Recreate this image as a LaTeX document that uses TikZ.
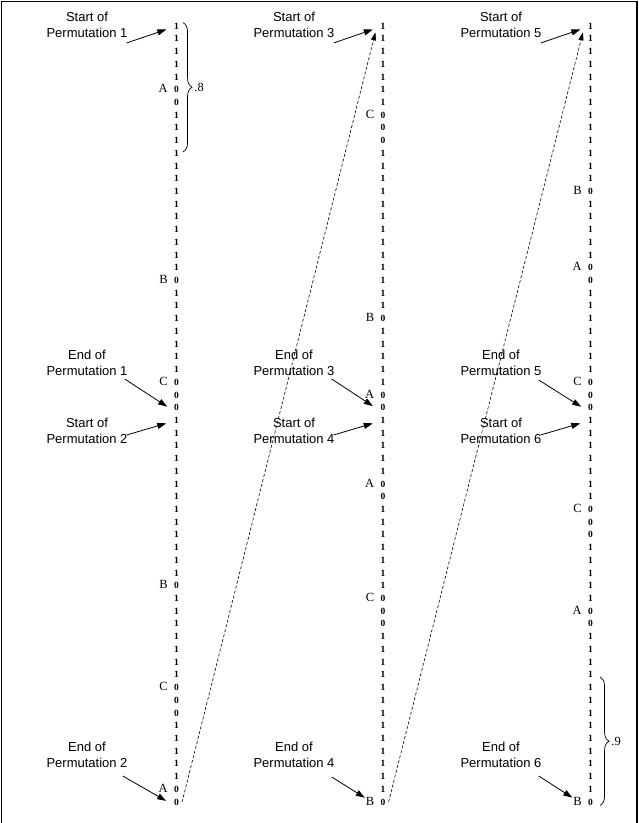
\documentclass[tikz,border=0pt]{standalone}
\usepackage{fontspec}
\setmainfont{Liberation Serif}
\setsansfont{Liberation Sans}
\usetikzlibrary{positioning, arrows.meta, decorations.pathreplacing}
\tikzstyle{bit}=[inner sep=0pt, font=\fontsize{9.5}{9.5}\selectfont\bfseries]
\tikzstyle{letter}=[inner sep=0pt, font=\fontsize{12.5}{12.5}\selectfont]
\tikzstyle{note}=[align=center, inner sep=0pt, font=\sffamily\fontsize{13}{16}\selectfont]
\tikzstyle{pointer}=[line width=.8pt, -{Triangle[length=9pt,width=6pt]}]
\tikzstyle{wrap}=[line width=.6pt, dash pattern=on 3pt off 2pt, -{Triangle[length=8pt,width=5pt]}]
\tikzstyle{curly}=[decorate, decoration={brace, amplitude=9pt}, line width=.7pt]
\newcount\bitno

\begin{document}
\begin{tikzpicture}[x=1pt, y=-1pt]
    \useasboundingbox (0,0) rectangle (639,823);
    % frame
    \draw[line width=1.2pt] (1.5,823) -- (1.5,1.5) -- (637,1.5) -- (637,823);
    % three columns of bits, each block is ones/zeros/letter
    \foreach \c/\x/\blocks in {1/176.5/{5/2/A,13/1/B,7/3/C,13/1/B,7/3/C,5/2/A},
                               2/383/{7/3/C,13/1/B,5/2/A,5/2/A,7/3/C,13/1/B},
                               3/590.5/{13/1/B,5/2/A,7/3/C,7/3/C,5/2/A,13/1/B}}{
        \global\bitno=0
        \foreach \ones/\zeros/\lab in \blocks{
            \foreach \k in {1,...,\ones}{
                \global\advance\bitno by 1
                \node[bit] (c\c-\the\bitno) at (\x, 13.28+12.72*\the\bitno) {1};
            }
            \pgfmathtruncatemacro\first{\the\bitno+1}
            \foreach \k in {1,...,\zeros}{
                \global\advance\bitno by 1
                \node[bit] (c\c-\the\bitno) at (\x, 13.28+12.72*\the\bitno) {0};
            }
            \node[letter, anchor=base east] (l\c-\first) at ([xshift=-6pt]c\c-\first.base west) {\lab};
        }
    }
    % labels, column 1
    \node[note] (s1) at (87, 25) {Start of\\Permutation 1};
    \node[note] (e1) at (87, 363) {End of\\Permutation 1};
    \node[note] (s2) at (87, 431) {Start of\\Permutation 2};
    \node[note] (e2) at (87, 755) {End of\\Permutation 2};
    % labels, column 2
    \node[note] (s3) at (294, 25) {Start of\\Permutation 3};
    \node[note] (e3) at (294, 363) {End of\\Permutation 3};
    \node[note] (s4) at (294, 431) {Start of\\Permutation 4};
    \node[note] (e4) at (294, 755) {End of\\Permutation 4};
    % labels, column 3
    \node[note] (s5) at (501, 25) {Start of\\Permutation 5};
    \node[note] (e5) at (501, 363) {End of\\Permutation 5};
    \node[note] (s6) at (501, 431) {Start of\\Permutation 6};
    \node[note] (e6) at (501, 755) {End of\\Permutation 6};
    % pointers
    \draw[pointer, shorten >=8pt] ([xshift=-1pt,yshift=-5pt]s1.south east) -- (c1-1);
    \draw[pointer, shorten >=8pt] ([xshift=-3pt,yshift=-3pt]e1.south east) -- (c1-31.south west);
    \draw[pointer, shorten >=8pt] ([xshift=-1pt,yshift=9pt]s2.south east) -- (c1-32);
    \draw[pointer, shorten >=9pt] ([xshift=-5pt,yshift=-8pt]e2.south east) -- (c1-62.south west);
    \draw[pointer, shorten >=8pt] ([xshift=-1pt,yshift=-5pt]s3.south east) -- (c2-1);
    \draw[pointer, shorten >=9pt] ([xshift=-3pt,yshift=-3pt]e3.south east) -- (c2-31.south west);
    \draw[pointer, shorten >=8pt] ([xshift=-1pt,yshift=9pt]s4.south east) -- (c2-32);
    \draw[pointer, shorten >=1pt] ([xshift=-3pt,yshift=-9pt]e4.south east) -- (l2-62);
    \draw[pointer, shorten >=8pt] ([xshift=-1pt,yshift=-5pt]s5.south east) -- (c3-1);
    \draw[pointer, shorten >=8pt] ([xshift=-3pt,yshift=-4pt]e5.south east) -- (c3-31.south west);
    \draw[pointer, shorten >=8pt] ([xshift=-1pt,yshift=9pt]s6.south east) -- (c3-32);
    \draw[pointer, shorten >=1pt] ([xshift=-3pt,yshift=-8pt]e6.south east) -- (l3-62);
    % wrap from the end of one column to the top of the next
    \draw[wrap] ([xshift=3pt]c1-62.east) -- ([xshift=-5pt,yshift=-3pt]c2-1.south west);
    \draw[wrap] ([xshift=3pt]c2-62.east) -- ([xshift=-5pt,yshift=-3pt]c3-1.south west);
    % braces
    \draw[curly] ([xshift=4pt]c1-1.north east) -- node[midway, right=11pt, letter] (f1) {.8} ([xshift=4pt,yshift=-8pt]c1-10.south east);
    \draw[curly] ([xshift=7pt,yshift=7pt]c3-53.north east) -- node[midway, right=11pt, letter] (f2) {.9} ([xshift=7pt]c3-62.south east);
\end{tikzpicture}
\end{document}
